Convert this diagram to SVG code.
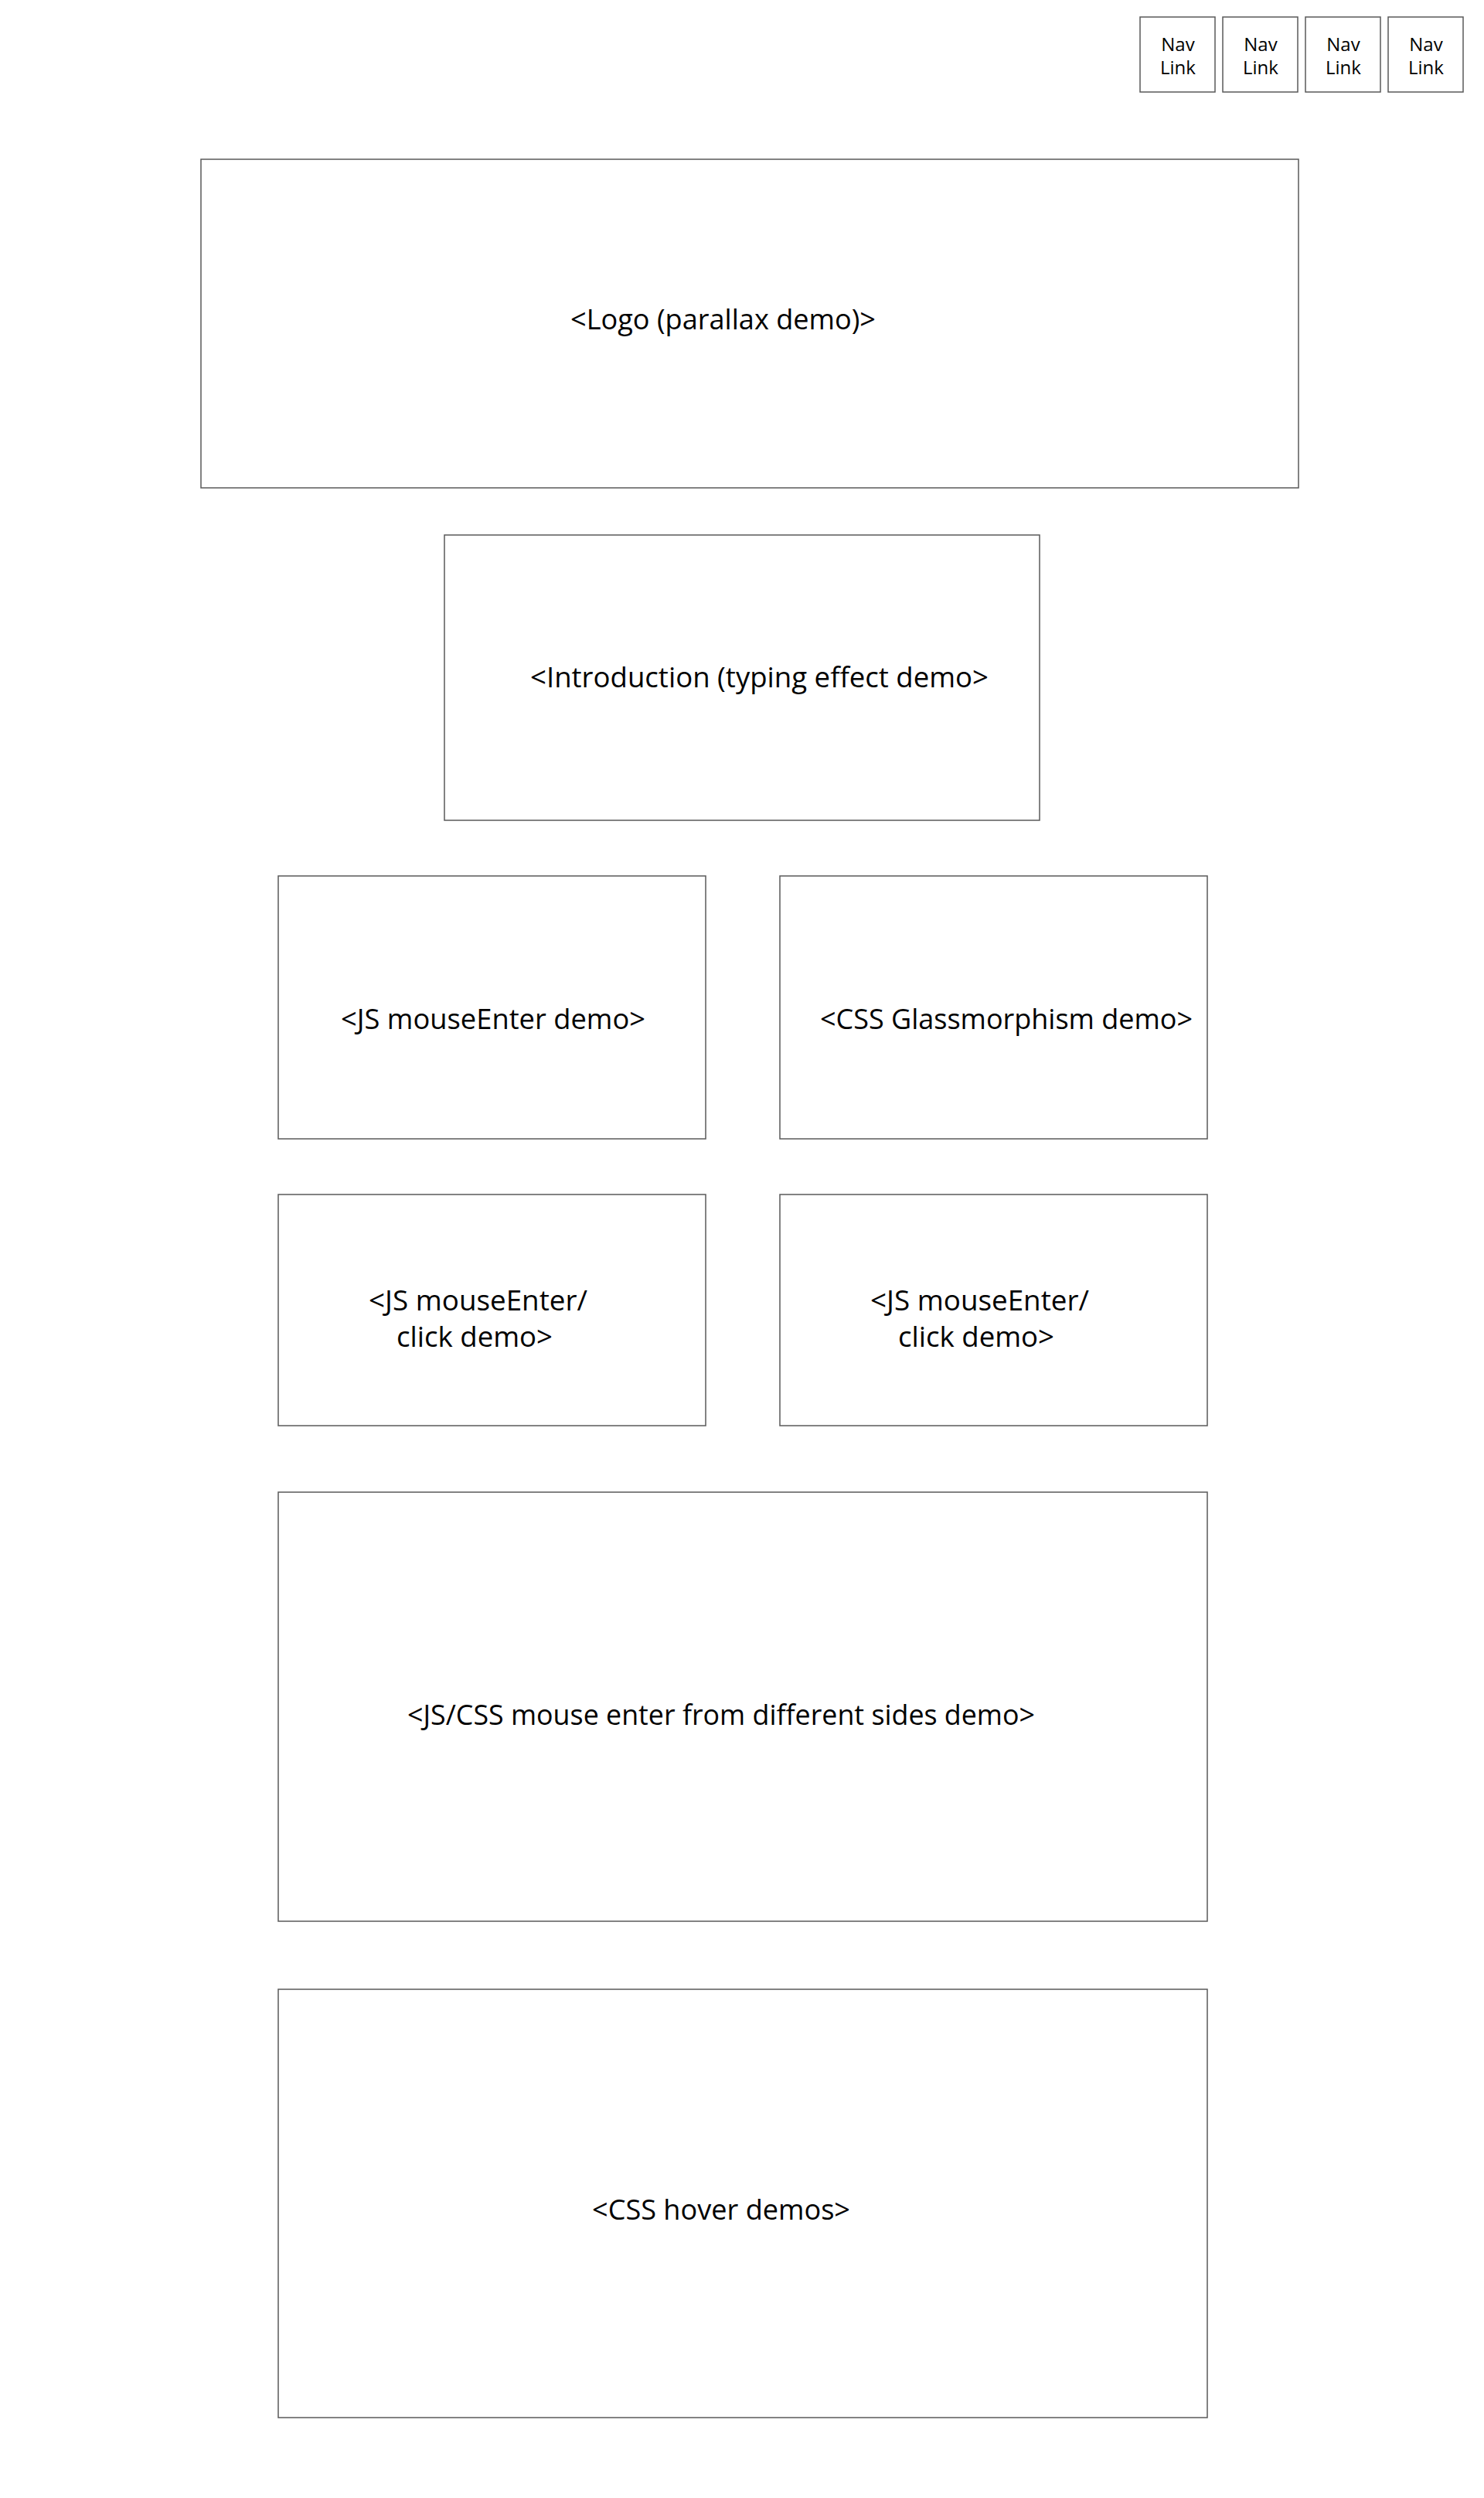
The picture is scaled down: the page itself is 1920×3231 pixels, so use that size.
<svg xmlns="http://www.w3.org/2000/svg" width="1920" height="3231" viewBox="0 0 1920 3231">
<style>
.box{fill:#ffffff;stroke:#5a5a5a;stroke-width:1.5}
.t{font-family:"Open Sans","Noto Sans","Liberation Sans",sans-serif;font-size:36px;fill:#000000}
.n{font-family:"Open Sans","Noto Sans","Liberation Sans",sans-serif;font-size:24px;fill:#000000;text-anchor:middle}
</style>
<rect width="1920" height="3231" fill="#ffffff"/>
<g id="connectors"></g>
<g id="nav1"><rect class="box" x="1475" y="22" width="97" height="97"/><text class="n" x="1524" y="66">Nav</text><text class="n" x="1524" y="96">Link</text></g>
<g id="nav2"><rect class="box" x="1582" y="22" width="97" height="97"/><text class="n" x="1631" y="66">Nav</text><text class="n" x="1631" y="96">Link</text></g>
<g id="nav3"><rect class="box" x="1689" y="22" width="97" height="97"/><text class="n" x="1738" y="66">Nav</text><text class="n" x="1738" y="96">Link</text></g>
<g id="nav4"><rect class="box" x="1796" y="22" width="97" height="97"/><text class="n" x="1845" y="66">Nav</text><text class="n" x="1845" y="96">Link</text></g>
<g id="logo"><rect class="box" x="260" y="206" width="1420" height="425"/><text class="t" x="738" y="426" textLength="395" lengthAdjust="spacingAndGlyphs">&lt;Logo (parallax demo)&gt;</text></g>
<g id="intro"><rect class="box" x="575" y="692" width="770" height="369"/><text class="t" x="686" y="889" textLength="593" lengthAdjust="spacingAndGlyphs">&lt;Introduction (typing effect demo&gt;</text></g>
<g id="js-mouseenter"><rect class="box" x="360" y="1133" width="553" height="340"/><text class="t" x="441" y="1331" textLength="394" lengthAdjust="spacingAndGlyphs">&lt;JS mouseEnter demo&gt;</text></g>
<g id="css-glass"><rect class="box" x="1009" y="1133" width="553" height="340"/><text class="t" x="1061" y="1331" textLength="482" lengthAdjust="spacingAndGlyphs">&lt;CSS Glassmorphism demo&gt;</text></g>
<g id="js-click-1"><rect class="box" x="360" y="1545" width="553" height="299"/><text class="t" x="477" y="1695" textLength="283" lengthAdjust="spacingAndGlyphs">&lt;JS mouseEnter/</text><text class="t" x="513" y="1742" textLength="202" lengthAdjust="spacingAndGlyphs">click demo&gt;</text></g>
<g id="js-click-2"><rect class="box" x="1009" y="1545" width="553" height="299"/><text class="t" x="1126" y="1695" textLength="283" lengthAdjust="spacingAndGlyphs">&lt;JS mouseEnter/</text><text class="t" x="1162" y="1742" textLength="202" lengthAdjust="spacingAndGlyphs">click demo&gt;</text></g>
<g id="sides"><rect class="box" x="360" y="1930" width="1202" height="555"/><text class="t" x="527" y="2231" textLength="812" lengthAdjust="spacingAndGlyphs">&lt;JS/CSS mouse enter from different sides demo&gt;</text></g>
<g id="hover"><rect class="box" x="360" y="2573" width="1202" height="554"/><text class="t" x="766" y="2871" textLength="334" lengthAdjust="spacingAndGlyphs">&lt;CSS hover demos&gt;</text></g>
</svg>
